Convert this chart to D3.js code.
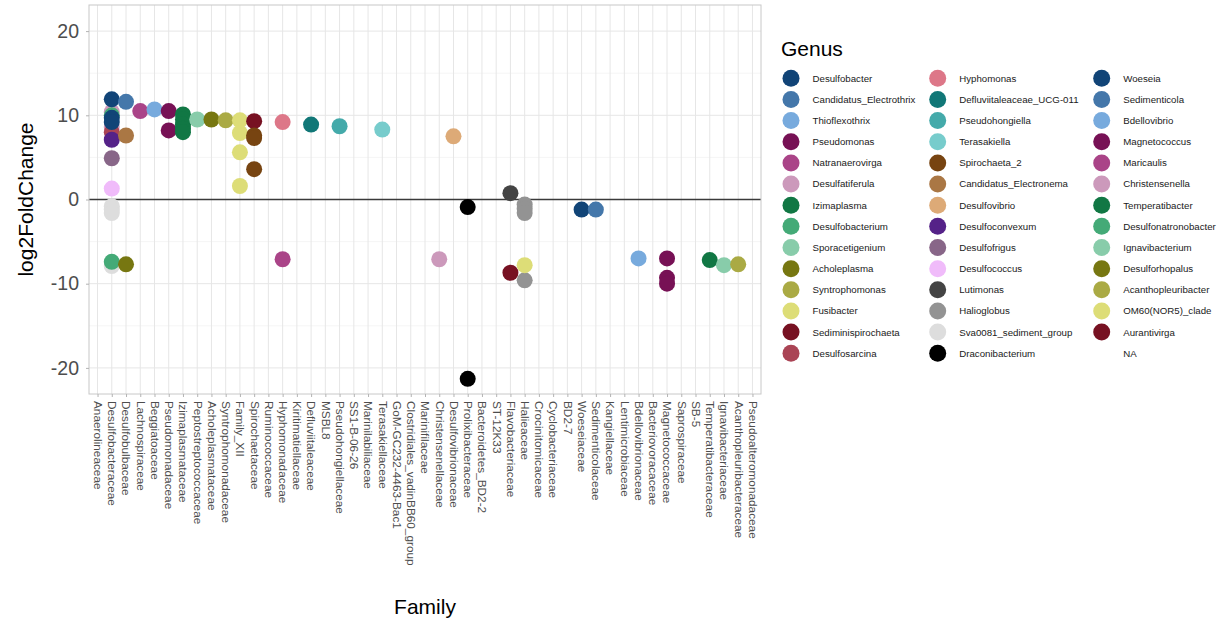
<!DOCTYPE html>
<html>
<head>
<meta charset="utf-8">
<script src="https://cdn.jsdelivr.net/npm/d3@7"></script>
<style>
  html, body { margin: 0; padding: 0; background: #fff; }
  svg { display: block; font-family: "Liberation Sans", Arial, sans-serif; }
</style>
</head>
<body>
<svg id="chart" width="1225" height="622"></svg>
<script>
// x-axis categories (bacterial families, in plotting order)
const families = [
  "Anaerolineaceae", "Desulfobacteraceae", "Desulfobulbaceae", "Lachnospiraceae",
  "Beggiatoaceae", "Pseudomonadaceae", "Izimaplasmataceae", "Peptostreptococcaceae",
  "Acholeplasmataceae", "Syntrophomonadaceae", "Family_XII", "Spirochaetaceae",
  "Ruminococcaceae", "Hyphomonadaceae", "Kiritimatiellaceae", "Defluviitaleaceae",
  "MSBL8", "Pseudohongiellaceae", "SS1-B-06-26", "Marinilabiliaceae",
  "Terasakiellaceae", "GoM-GC232-4463-Bac1", "Clostridiales_vadinBB60_group", "Marinifilaceae",
  "Christensenellaceae", "Desulfovibrionaceae", "Prolixibacteraceae", "Bacteroidetes_BD2-2",
  "ST-12K33", "Flavobacteriaceae", "Halieaceae", "Crocinitomicaceae",
  "Cyclobacteriaceae", "BD2-7", "Woeseiaceae", "Sedimenticolaceae",
  "Kangiellaceae", "Lentimicrobiaceae", "Bdellovibrionaceae", "Bacteriovoracaceae",
  "Magnetococcaceae", "Saprospiraceae", "SB-5", "Temperatibacteraceae",
  "Ignavibacteriaceae", "Acanthopleuribacteraceae", "Pseudoalteromonadaceae"
];

// colour legend entries (genus) and their colours
const genera = [
  "Desulfobacter", "Candidatus_Electrothrix", "Thioflexothrix", "Pseudomonas",
  "Natranaerovirga", "Desulfatiferula", "Izimaplasma", "Desulfobacterium",
  "Sporacetigenium", "Acholeplasma", "Syntrophomonas", "Fusibacter",
  "Sediminispirochaeta", "Desulfosarcina",
  "Hyphomonas", "Defluviitaleaceae_UCG-011", "Pseudohongiella", "Terasakiella",
  "Spirochaeta_2", "Candidatus_Electronema", "Desulfovibrio", "Desulfoconvexum",
  "Desulfofrigus", "Desulfococcus", "Lutimonas", "Halioglobus",
  "Sva0081_sediment_group", "Draconibacterium",
  "Woeseia", "Sedimenticola", "Bdellovibrio", "Magnetococcus",
  "Maricaulis", "Christensenella", "Temperatibacter", "Desulfonatronobacter",
  "Ignavibacterium", "Desulforhopalus", "Acanthopleuribacter", "OM60(NOR5)_clade",
  "Aurantivirga"
];
const genusColors = [
  "#114477", "#4477AA", "#77AADD", "#771155", "#AA4488", "#CC99BB", "#117744",
  "#44AA77", "#88CCAA", "#777711", "#AAAA44", "#DDDD77", "#771122", "#AA4455",
  "#DD7788", "#117777", "#44AAAA", "#77CCCC", "#774411", "#AA7744", "#DDAA77",
  "#552288", "#886688", "#F0BBFA", "#444444", "#939393", "#DDDDDD", "#000000",
  "#114477", "#4477AA", "#77AADD", "#771155", "#AA4488", "#CC99BB", "#117744",
  "#44AA77", "#88CCAA", "#777711", "#AAAA44", "#DDDD77", "#771122"
];
const legendLabels = genera.concat(["NA"]);

// y-axis ticks
const yMajorTicks = [-20, -10, 0, 10, 20];
const yMinorTicks = [-15, -5, 5, 15];

// differentially abundant taxa: [family, genus, log2FoldChange]
const observations = [
  ["Desulfobacteraceae", "Sva0081_sediment_group", -7.9],
  ["Desulfobacteraceae", "Desulfobacterium", -7.4],
  ["Desulfobacteraceae", "Sva0081_sediment_group", -0.8],
  ["Desulfobacteraceae", "Sva0081_sediment_group", -1.2],
  ["Desulfobacteraceae", "Sva0081_sediment_group", -1.6],
  ["Desulfobacteraceae", "Desulfococcus", 1.3],
  ["Desulfobacteraceae", "Desulfofrigus", 4.9],
  ["Desulfobacteraceae", "Desulfatiferula", 10.4],
  ["Desulfobacteraceae", "Desulfobacterium", 10.0],
  ["Desulfobacteraceae", "Desulfatiferula", 8.6],
  ["Desulfobacteraceae", "Desulfosarcina", 8.0],
  ["Desulfobacteraceae", "Desulfobacter", 9.7],
  ["Desulfobacteraceae", "Desulfobacter", 9.2],
  ["Desulfobacteraceae", "Desulfoconvexum", 7.1],
  ["Desulfobacteraceae", "Desulfobacter", 11.9],
  ["Desulfobulbaceae", "Candidatus_Electrothrix", 11.6],
  ["Desulfobulbaceae", "Candidatus_Electronema", 7.6],
  ["Desulfobulbaceae", "Desulforhopalus", -7.7],
  ["Lachnospiraceae", "Natranaerovirga", 10.5],
  ["Beggiatoaceae", "Thioflexothrix", 10.7],
  ["Pseudomonadaceae", "Pseudomonas", 10.5],
  ["Pseudomonadaceae", "Pseudomonas", 8.2],
  ["Izimaplasmataceae", "Izimaplasma", 10.1],
  ["Izimaplasmataceae", "Izimaplasma", 9.5],
  ["Izimaplasmataceae", "Izimaplasma", 8.9],
  ["Izimaplasmataceae", "Izimaplasma", 8.4],
  ["Izimaplasmataceae", "Izimaplasma", 8.0],
  ["Peptostreptococcaceae", "Sporacetigenium", 9.5],
  ["Acholeplasmataceae", "Acholeplasma", 9.5],
  ["Syntrophomonadaceae", "Syntrophomonas", 9.4],
  ["Family_XII", "Fusibacter", 9.4],
  ["Family_XII", "Fusibacter", 7.9],
  ["Family_XII", "Fusibacter", 5.6],
  ["Family_XII", "Fusibacter", 1.6],
  ["Spirochaetaceae", "Sediminispirochaeta", 9.3],
  ["Spirochaetaceae", "Spirochaeta_2", 7.6],
  ["Spirochaetaceae", "Spirochaeta_2", 7.3],
  ["Spirochaetaceae", "Spirochaeta_2", 3.6],
  ["Hyphomonadaceae", "Hyphomonas", 9.2],
  ["Hyphomonadaceae", "Maricaulis", -7.1],
  ["Defluviitaleaceae", "Defluviitaleaceae_UCG-011", 8.9],
  ["Pseudohongiellaceae", "Pseudohongiella", 8.7],
  ["Terasakiellaceae", "Terasakiella", 8.3],
  ["Christensenellaceae", "Christensenella", -7.1],
  ["Desulfovibrionaceae", "Desulfovibrio", 7.5],
  ["Prolixibacteraceae", "Draconibacterium", -0.9],
  ["Prolixibacteraceae", "Draconibacterium", -21.3],
  ["Flavobacteriaceae", "Lutimonas", 0.75],
  ["Flavobacteriaceae", "Aurantivirga", -8.7],
  ["Halieaceae", "Halioglobus", -0.6],
  ["Halieaceae", "Halioglobus", -1.1],
  ["Halieaceae", "Halioglobus", -1.6],
  ["Halieaceae", "Halioglobus", -9.6],
  ["Halieaceae", "OM60(NOR5)_clade", -7.8],
  ["Woeseiaceae", "Woeseia", -1.2],
  ["Sedimenticolaceae", "Sedimenticola", -1.2],
  ["Bdellovibrionaceae", "Bdellovibrio", -7.0],
  ["Magnetococcaceae", "Magnetococcus", -7.0],
  ["Magnetococcaceae", "Magnetococcus", -9.3],
  ["Magnetococcaceae", "Magnetococcus", -10.0],
  ["Temperatibacteraceae", "Temperatibacter", -7.2],
  ["Ignavibacteriaceae", "Ignavibacterium", -7.8],
  ["Acanthopleuribacteraceae", "Acanthopleuribacter", -7.7]
];

// ---- layout ----
const panel = { left: 89, right: 761, top: 5, bottom: 394 };
const svg = d3.select("#chart");

const x = d3.scalePoint()
  .domain(families)
  .range([panel.left, panel.right])
  .padding(0.6);

const y = d3.scaleLinear()
  .domain([-23.1, 23.1])
  .range([panel.bottom, panel.top]);

const color = d3.scaleOrdinal().domain(genera).range(genusColors);

// panel grid
const grid = svg.append("g");
grid.selectAll("line.ymin").data(yMinorTicks).join("line")
  .attr("x1", panel.left).attr("x2", panel.right)
  .attr("y1", d => y(d)).attr("y2", d => y(d))
  .attr("stroke", "#F2F2F2").attr("stroke-width", 0.8);
grid.selectAll("line.ymaj").data(yMajorTicks).join("line")
  .attr("x1", panel.left).attr("x2", panel.right)
  .attr("y1", d => y(d)).attr("y2", d => y(d))
  .attr("stroke", "#E6E6E6").attr("stroke-width", 1);
grid.selectAll("line.xmaj").data(families).join("line")
  .attr("x1", d => x(d)).attr("x2", d => x(d))
  .attr("y1", panel.top).attr("y2", panel.bottom)
  .attr("stroke", "#E6E6E6").attr("stroke-width", 1);

// zero reference line
svg.append("line")
  .attr("x1", panel.left).attr("x2", panel.right)
  .attr("y1", y(0)).attr("y2", y(0))
  .attr("stroke", "#3A3A3A").attr("stroke-width", 1.6);

// points
svg.append("g").selectAll("circle").data(observations).join("circle")
  .attr("cx", d => x(d[0]))
  .attr("cy", d => y(d[2]))
  .attr("r", 8)
  .attr("fill", d => color(d[1]));

// panel border
svg.append("rect")
  .attr("x", panel.left).attr("y", panel.top)
  .attr("width", panel.right - panel.left).attr("height", panel.bottom - panel.top)
  .attr("fill", "none").attr("stroke", "#C8C8C8").attr("stroke-width", 1);

// y axis (plain hyphen for negatives)
const yAxis = d3.axisLeft(y).tickValues(yMajorTicks).tickFormat(d => String(d))
  .tickSize(3).tickPadding(7);
const gy = svg.append("g").attr("transform", `translate(${panel.left},0)`).call(yAxis);
gy.select(".domain").remove();
gy.selectAll(".tick line").attr("stroke", "#B3B3B3");
gy.selectAll(".tick text")
  .attr("fill", "#4D4D4D")
  .style("font-size", "19.5px")
  .style("font-family", "'Liberation Sans', Arial, sans-serif");

// x axis with vertical labels
const xAxis = d3.axisBottom(x).tickSize(3).tickPadding(0);
const gx = svg.append("g").attr("transform", `translate(0,${panel.bottom})`).call(xAxis);
gx.select(".domain").remove();
gx.selectAll(".tick line").attr("stroke", "#B3B3B3");
gx.selectAll(".tick text")
  .attr("fill", "#4D4D4D")
  .attr("text-anchor", "start")
  .attr("transform", "translate(0,7) rotate(90)")
  .attr("x", 0).attr("y", 0).attr("dy", "0.35em")
  .style("font-size", "11.8px")
  .style("font-family", "'Liberation Sans', Arial, sans-serif");

// axis titles
svg.append("text")
  .attr("x", (panel.left + panel.right) / 2).attr("y", 614)
  .attr("text-anchor", "middle")
  .style("font-size", "21px").attr("fill", "#000")
  .text("Family");
svg.append("text")
  .attr("transform", `translate(33,${(panel.top + panel.bottom) / 2}) rotate(-90)`)
  .attr("text-anchor", "middle")
  .style("font-size", "21px").attr("fill", "#000")
  .text("log2FoldChange");

// legend
const legend = svg.append("g");
legend.append("text")
  .attr("x", 781).attr("y", 56)
  .style("font-size", "21px").attr("fill", "#000")
  .text("Genus");

const colKeyX = [791, 937.7, 1101.7];
const rowsPerCol = 14;
const rowStep = 21.15;
const items = legend.selectAll("g.item").data(legendLabels).join("g")
  .attr("transform", (d, i) => {
    const c = Math.floor(i / rowsPerCol), r = i % rowsPerCol;
    return `translate(${colKeyX[c]},${78.3 + r * rowStep})`;
  });
items.filter(d => d !== "NA").append("circle")
  .attr("r", 8.5)
  .attr("fill", d => color(d));
items.append("text")
  .attr("x", 21.5).attr("dy", "0.35em")
  .style("font-size", "9.7px").attr("fill", "#1A1A1A")
  .text(d => d);
</script>
</body>
</html>
